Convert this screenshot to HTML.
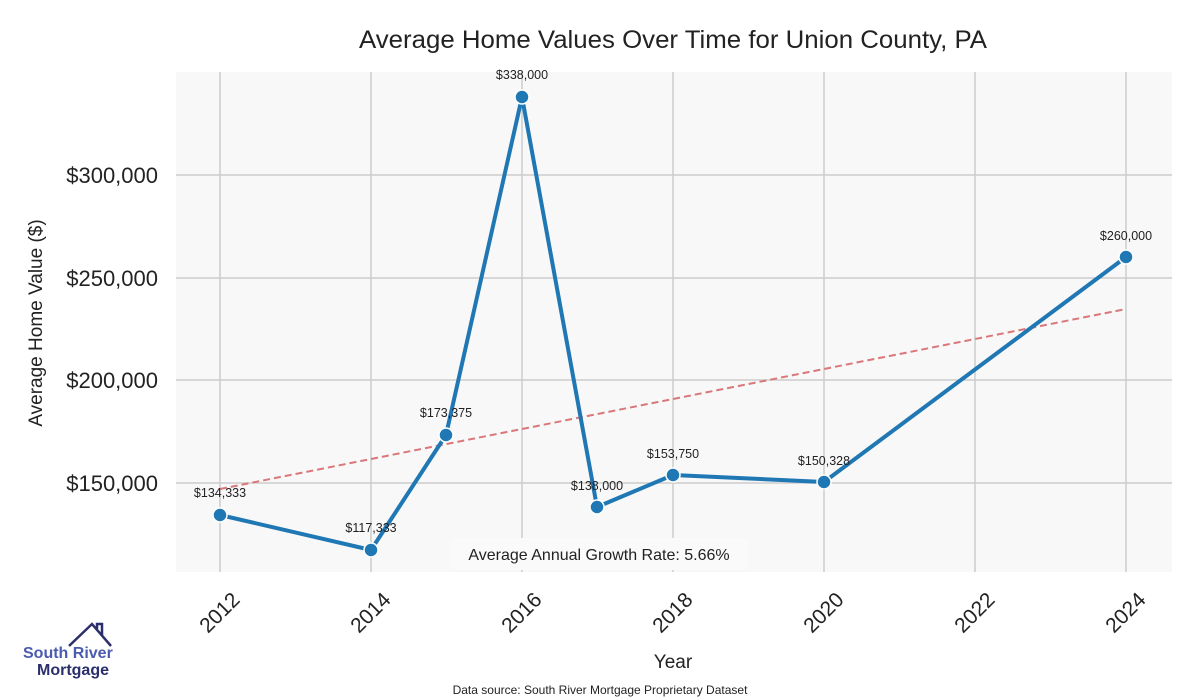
<!DOCTYPE html>
<html><head><meta charset="utf-8"><style>
body{margin:0;background:#fff;}
svg{display:block;font-family:"Liberation Sans",sans-serif;}
</style></head><body>
<svg width="1200" height="700" viewBox="0 0 1200 700">
<rect x="176" y="72" width="996" height="500" fill="#f8f8f8"/>
<g stroke="#cccccc" stroke-width="1.5">
<line x1="220" y1="72" x2="220" y2="572"/><line x1="371" y1="72" x2="371" y2="572"/>
<line x1="522" y1="72" x2="522" y2="572"/><line x1="673" y1="72" x2="673" y2="572"/>
<line x1="824" y1="72" x2="824" y2="572"/><line x1="975" y1="72" x2="975" y2="572"/>
<line x1="1126" y1="72" x2="1126" y2="572"/>
<line x1="176" y1="175" x2="1172" y2="175"/><line x1="176" y1="278" x2="1172" y2="278"/>
<line x1="176" y1="380" x2="1172" y2="380"/><line x1="176" y1="483" x2="1172" y2="483"/>
</g>
<line x1="220" y1="489" x2="1126" y2="309" stroke="#d9777a" stroke-width="2" stroke-dasharray="7,4"/>
<polyline points="220,515 371,550 446,435 522,97 597,507 673,475 824,482 1126,257" fill="none" stroke="#1f77b4" stroke-width="4" stroke-linejoin="round"/>
<g fill="#1f77b4" stroke="#fff" stroke-width="1.5">
<circle cx="220" cy="515" r="7"/><circle cx="371" cy="550" r="7"/><circle cx="446" cy="435" r="7"/><circle cx="522" cy="97" r="7"/><circle cx="597" cy="507" r="7"/><circle cx="673" cy="475" r="7"/><circle cx="824" cy="482" r="7"/><circle cx="1126" cy="257" r="7"/>
</g>
<g font-size="12.5" fill="#222" text-anchor="middle">
<text x="220" y="497">$134,333</text><text x="371" y="532">$117,333</text><text x="446" y="417">$173,375</text>
<text x="522" y="79">$338,000</text><text x="597" y="490">$138,000</text><text x="673" y="458">$153,750</text>
<text x="824" y="465">$150,328</text><text x="1126" y="240">$260,000</text>
</g>
<rect x="450" y="538" width="298" height="32" rx="6" fill="#fafafa"/>
<text x="599" y="560" font-size="16" fill="#222" text-anchor="middle">Average Annual Growth Rate: 5.66%</text>
<g font-size="22" fill="#222" text-anchor="end">
<text x="158" y="183">$300,000</text><text x="158" y="286">$250,000</text><text x="158" y="388">$200,000</text><text x="158" y="491">$150,000</text>
</g>
<g font-size="21" fill="#222" text-anchor="end">
<text transform="translate(241,601) rotate(-45)">2012</text>
<text transform="translate(392,601) rotate(-45)">2014</text>
<text transform="translate(543,601) rotate(-45)">2016</text>
<text transform="translate(694,601) rotate(-45)">2018</text>
<text transform="translate(845,601) rotate(-45)">2020</text>
<text transform="translate(996,601) rotate(-45)">2022</text>
<text transform="translate(1147,601) rotate(-45)">2024</text>
</g>
<text x="673" y="48" font-size="25" fill="#222" text-anchor="middle" textLength="628" lengthAdjust="spacingAndGlyphs">Average Home Values Over Time for Union County, PA</text>
<text x="673" y="668" font-size="19" fill="#222" text-anchor="middle">Year</text>
<text transform="translate(42,323) rotate(-90)" font-size="19" fill="#222" text-anchor="middle">Average Home Value ($)</text>
<text x="600" y="694" font-size="12" fill="#222" text-anchor="middle">Data source: South River Mortgage Proprietary Dataset</text>
<polyline points="69,646 92,624 111,646" fill="none" stroke="#2b2f6b" stroke-width="2.5"/>
<polyline points="97,629 97,624 102,624 102,636" fill="none" stroke="#2b2f6b" stroke-width="2.5"/>
<text x="23" y="658" font-size="16" font-weight="bold" fill="#4a5bb0">South River</text>
<text x="37" y="675" font-size="16" font-weight="bold" fill="#2b2f6b">Mortgage</text>
</svg>
</body></html>
